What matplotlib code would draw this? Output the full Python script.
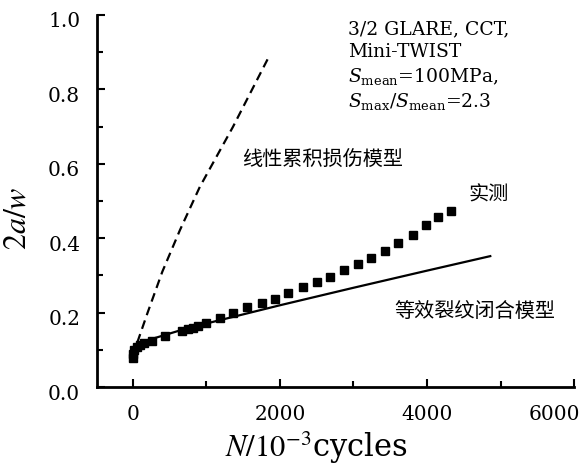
import matplotlib.pyplot as plt
from matplotlib.ticker import MultipleLocator
from matplotlib.transforms import ScaledTranslation

# 实测数据
n_test = [0, 0, 20, 50, 100, 150, 260, 435, 665, 750, 820, 885, 1000, 1180, 1360,
          1550, 1750, 1930, 2110, 2310, 2500, 2680, 2870, 3060, 3240, 3430, 3600,
          3810, 3990, 4150, 4330]
a_test = [0.078, 0.09, 0.10, 0.107, 0.113, 0.118, 0.124, 0.137, 0.151, 0.155, 0.16,
          0.163, 0.171, 0.187, 0.198, 0.215, 0.225, 0.238, 0.252, 0.268, 0.282,
          0.296, 0.314, 0.33, 0.346, 0.366, 0.387, 0.41, 0.435, 0.457, 0.473]

# 等效裂纹闭合模型
n_closure = [0, 100, 300, 600, 1000, 2000, 3000, 4000, 4860]
a_closure = [0.095, 0.115, 0.132, 0.15, 0.171, 0.22, 0.267, 0.313, 0.352]

# 线性累积损伤模型
n_linear = [60, 200, 400, 640, 910, 1360, 1840]
a_linear = [0.12, 0.20, 0.31, 0.422, 0.538, 0.699, 0.884]

x_ticks = [0, 2000, 4000, 6000]
y_ticks = [0.0, 0.2, 0.4, 0.6, 0.8, 1.0]
y_ticklabels = ['0.0', '0.2', '0.4', '0.6', '0.8', '1.0']

plt.rcParams['font.family'] = ['DejaVu Serif', 'Noto Sans CJK SC']
plt.rcParams['mathtext.fontset'] = 'stix'

fig = plt.figure(figsize=(5.87, 4.67), dpi=100)
ax = fig.add_axes([0.165, 0.171, 0.813, 0.797])

ax.plot(n_linear, a_linear, color='black', linestyle=(0, (4, 2.5)), linewidth=1.6)
ax.plot(n_closure, a_closure, color='black', linestyle='-', linewidth=1.6)
ax.plot(n_test, a_test, linestyle='none', marker='s', color='black', markersize=6)

ax.set_xlim(-490, 6000)
ax.set_ylim(0, 1.0)
ax.set_xticks(x_ticks)
ax.xaxis.set_minor_locator(MultipleLocator(1000))
ax.set_yticks(y_ticks)
ax.set_yticklabels(y_ticklabels)
ax.yaxis.set_minor_locator(MultipleLocator(0.1))
ax.tick_params(which='both', direction='in', width=1.5, labelsize=14.5)
ax.tick_params(which='major', length=6)
ax.tick_params(which='minor', length=4)
ax.tick_params(axis='x', pad=13)
ax.tick_params(axis='y', pad=12)

# 刻度标签稍微下移
fig.canvas.draw()
for lab in ax.get_yticklabels():
    lab.set_transform(lab.get_transform() + ScaledTranslation(0, -5 / 100, fig.dpi_scale_trans))
ax.get_xticklabels()[-1].set_transform(
    ax.get_xticklabels()[-1].get_transform() + ScaledTranslation(-20 / 100, 0, fig.dpi_scale_trans))

for side in ['top', 'right']:
    ax.spines[side].set_visible(False)
for side in ['left', 'bottom']:
    ax.spines[side].set_linewidth(2)

ax.set_ylabel('$2a/w$', fontsize=23)
ax.yaxis.set_label_coords(-0.135, 0.455)
ax.set_xlabel('$N/10^{-3}$cycles', fontsize=22)
ax.xaxis.set_label_coords(0.46, -0.115)

# 试验条件
ax.text(2930, 0.985, '3/2 GLARE, CCT,\nMini-TWIST\n$S_{\\mathrm{mean}}$=100MPa,\n'
        '$S_{\\mathrm{max}}/S_{\\mathrm{mean}}$=2.3',
        fontsize=13.5, va='top', ha='left', linespacing=1.3, math_fontfamily='dejavuserif')

cjk = ['Noto Sans CJK SC', 'DejaVu Sans']
ax.text(1490, 0.61, '线性累积损伤模型', fontsize=14.5, family=cjk, va='center')
ax.text(4560, 0.515, '实测', fontsize=14.5, family=cjk, va='center')
ax.text(3560, 0.2, '等效裂纹闭合模型', fontsize=14.5, family=cjk, va='center')

plt.savefig('out.png', dpi=100)
